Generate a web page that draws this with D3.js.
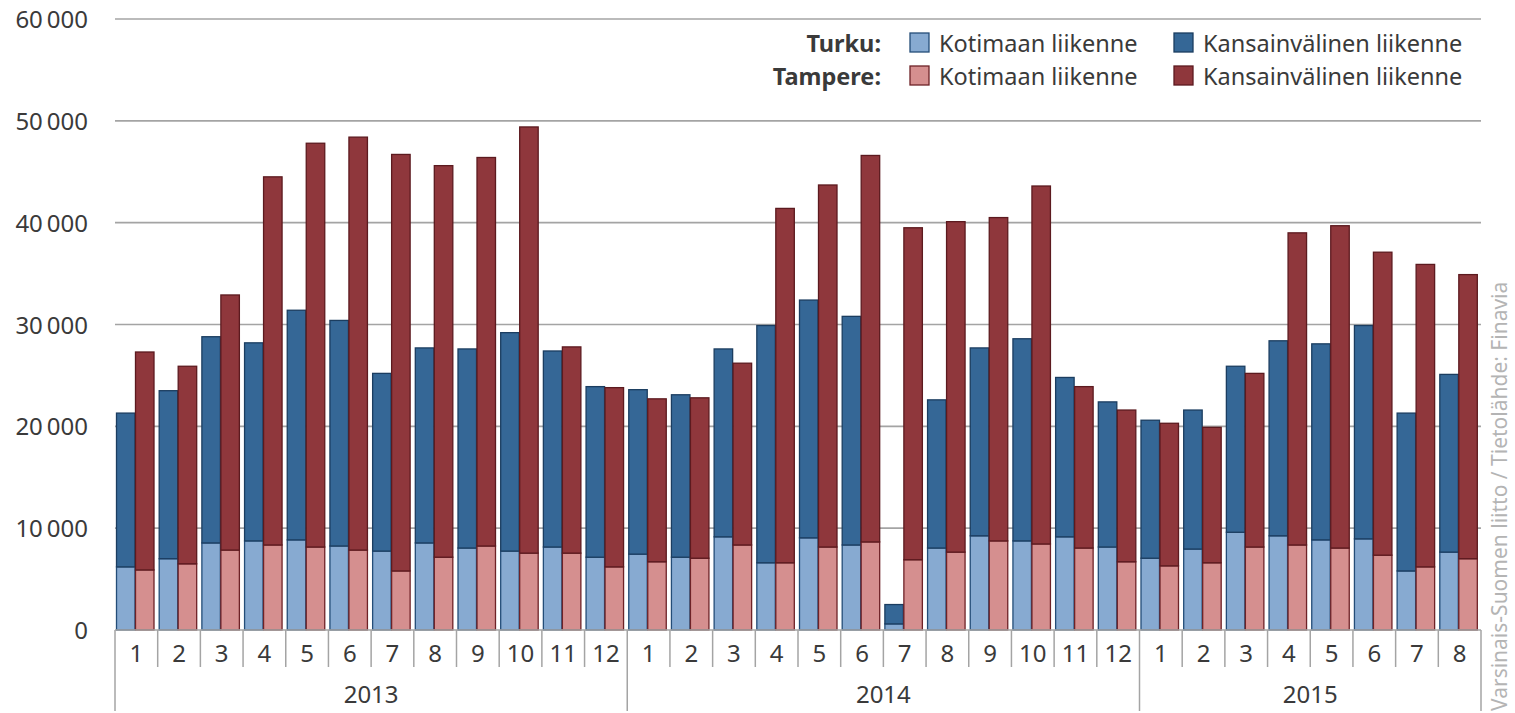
<!DOCTYPE html>
<html>
<head>
<meta charset="utf-8">
<style>
  body { margin: 0; background: #fff; }
  svg text { font-family: "Noto Sans", "Open Sans", sans-serif; fill: #3a3a3a; }
</style>
</head>
<body>
<script src="https://cdn.jsdelivr.net/npm/d3@7"></script>
<script>
// kuukaudet ja vuodet
var years = ["2013", "2014", "2015"];
var monthsPerYear = [12, 12, 8];
var months = [1,2,3,4,5,6,7,8,9,10,11,12, 1,2,3,4,5,6,7,8,9,10,11,12, 1,2,3,4,5,6,7,8];

// Turku
var turkuKotimaa = [6200,7000,8550,8750,8850,8250,7750,8550,8050,7750,8150,7150,
                    7450,7150,9150,6600,9050,8350,600,8050,9250,8750,9150,8150,
                    7050,7950,9600,9250,8850,8950,5800,7650];
var turkuUlkomaa = [15100,16500,20250,19450,22550,22150,17450,19150,19550,21450,19250,16750,
                    16150,15950,18450,23300,23350,22450,1900,14550,18450,19850,15650,14250,
                    13550,13650,16300,19150,19250,20950,15500,17450];
// Tampere
var tampereKotimaa = [5900,6500,7850,8350,8150,7850,5800,7150,8250,7550,7550,6200,
                      6700,7050,8350,6600,8150,8650,6900,7650,8750,8450,8050,6700,
                      6300,6600,8150,8350,8050,7350,6200,7000];
var tampereUlkomaa = [21400,19400,25050,36150,39650,40550,40900,38450,38150,41850,20250,17600,
                      16000,15750,17850,34800,35550,37950,32600,32450,31750,35150,15850,14900,
                      14000,13300,17050,30650,31650,29750,29700,27900];

var yTicks = [0, 10000, 20000, 30000, 40000, 50000, 60000];
var source = "Varsinais-Suomen liitto / Tietolähde: Finavia";

var width = 1515, height = 713;
var margin = {top: 19, right: 34, bottom: 83, left: 115};
var plotW = width - margin.left - margin.right;
var plotH = height - margin.top - margin.bottom;
var fs = "24px";

var svg = d3.select("body").append("svg")
  .attr("width", width).attr("height", height);

var x = d3.scaleBand().domain(d3.range(months.length)).range([margin.left, margin.left + plotW]);
var y = d3.scaleLinear().domain([0, 60000]).range([margin.top + plotH, margin.top]);

// ruudukko
svg.append("g").selectAll("line").data(yTicks.slice(1)).enter().append("line")
  .attr("x1", margin.left).attr("x2", margin.left + plotW)
  .attr("y1", function(d) { return y(d); }).attr("y2", function(d) { return y(d); })
  .attr("stroke", "#a4a4a4").attr("stroke-width", 1.7);

// y-akseli
var yAxis = svg.append("g")
  .attr("transform", "translate(" + (margin.left - 24) + ",0)")
  .call(d3.axisLeft(y).tickValues(yTicks).tickSize(0)
    .tickFormat(function(d) { return d3.format(",")(d).replace(",", "\u2009"); }));
yAxis.select(".domain").remove();
yAxis.selectAll("text").attr("font-size", fs).attr("dy", "0.36em")
  .style("font-family", "\"Noto Sans\", sans-serif").style("fill", "#3a3a3a");

// pinotut pylväät
var cities = [
  {name: "Turku", dom: turkuKotimaa, intl: turkuUlkomaa,
   colors: ["#87aad1", "#356796"], strokes: ["#244d78", "#1b3d60"]},
  {name: "Tampere", dom: tampereKotimaa, intl: tampereUlkomaa,
   colors: ["#d58f8f", "#8f373c"], strokes: ["#6e2227", "#5c1a1f"]}
];
var barW = 18.5;
var barOff = 1.5;

cities.forEach(function(c, ci) {
  var rows = months.map(function(m, i) { return {i: i, dom: c.dom[i], intl: c.intl[i]}; });
  var stacked = d3.stack().keys(["dom", "intl"])(rows);
  stacked.forEach(function(layer, li) {
    svg.append("g").selectAll("rect").data(layer).enter().append("rect")
      .attr("x", function(d) { return x(d.data.i) + barOff + ci * (barW + 0.5); })
      .attr("y", function(d) { return y(d[1]); })
      .attr("width", barW)
      .attr("height", function(d) { return y(d[0]) - y(d[1]); })
      .attr("fill", c.colors[li])
      .attr("stroke", c.strokes[li])
      .attr("stroke-width", 1.3);
  });
});

// x-akseli
var y0 = y(0);
svg.append("line").attr("x1", margin.left).attr("x2", margin.left + plotW)
  .attr("y1", y0).attr("y2", y0).attr("stroke", "#a4a4a4").attr("stroke-width", 1.7);

var yearStarts = [0];
monthsPerYear.forEach(function(n, i) { yearStarts.push(yearStarts[i] + n); });

var seps = d3.range(months.length + 1);
svg.append("g").selectAll("line").data(seps).enter().append("line")
  .attr("x1", function(d) { return d < months.length ? x(d) : margin.left + plotW; })
  .attr("x2", function(d) { return d < months.length ? x(d) : margin.left + plotW; })
  .attr("y1", y0)
  .attr("y2", function(d) { return yearStarts.indexOf(d) >= 0 ? y0 + 81 : y0 + 37; })
  .attr("stroke", "#a4a4a4").attr("stroke-width", 1.5);

svg.append("g").selectAll("text").data(months).enter().append("text")
  .attr("x", function(d, i) { return x(i) + x.bandwidth() / 2; })
  .attr("y", y0 + 32)
  .attr("text-anchor", "middle")
  .attr("font-size", fs)
  .text(function(d) { return d; });

svg.append("g").selectAll("text").data(years).enter().append("text")
  .attr("x", function(d, i) {
    var a = x(yearStarts[i]);
    var b = yearStarts[i + 1] < months.length ? x(yearStarts[i + 1]) : margin.left + plotW;
    return (a + b) / 2;
  })
  .attr("y", y0 + 73)
  .attr("text-anchor", "middle")
  .attr("font-size", fs)
  .text(function(d) { return d; });

// selite
var legend = svg.append("g");
var legendRows = [
  {label: "Turku:", c: cities[0]},
  {label: "Tampere:", c: cities[1]}
];
legendRows.forEach(function(r, ri) {
  var ly = 43 + ri * 33;
  legend.append("text").attr("x", 881).attr("y", ly + 9)
    .attr("text-anchor", "end").attr("font-size", "23.5px").attr("font-weight", "bold")
    .text(r.label);
  [["Kotimaan liikenne", 0, 910], ["Kansainvälinen liikenne", 1, 1174]].forEach(function(it) {
    legend.append("rect").attr("x", it[2]).attr("y", ly - 10).attr("width", 19).attr("height", 19)
      .attr("fill", r.c.colors[it[1]]).attr("stroke", r.c.strokes[it[1]]).attr("stroke-width", 1.3);
    legend.append("text").attr("x", it[2] + 29).attr("y", ly + 9)
      .attr("font-size", "23.5px").text(it[0]);
  });
});

// lähde
svg.append("text")
  .attr("transform", "translate(1507,711) rotate(-90)")
  .attr("font-size", "21px")
  .style("fill", "#b4b4b4")
  .text(source);
</script>
</body>
</html>
